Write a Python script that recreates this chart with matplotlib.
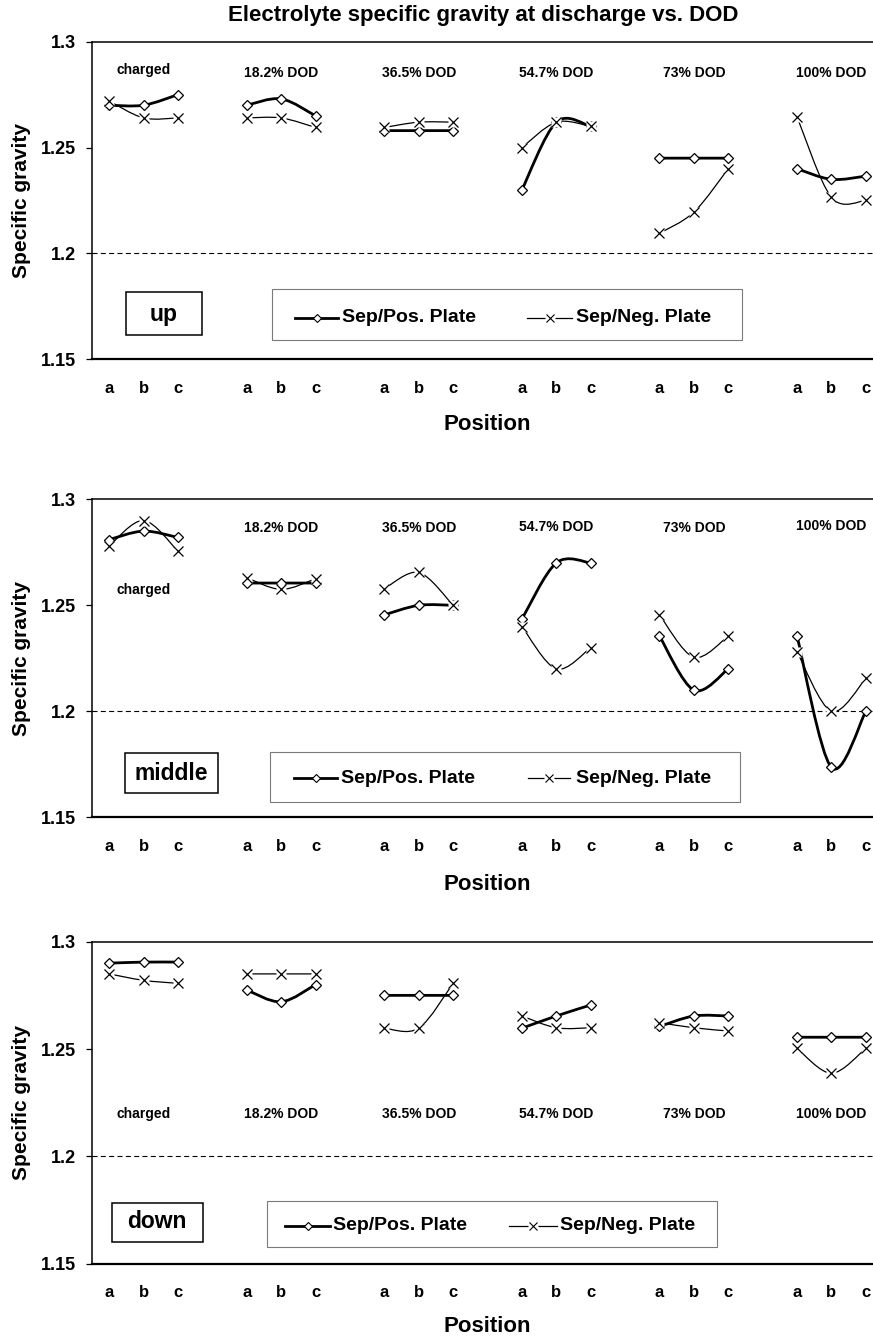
import matplotlib
matplotlib.use("Agg")
import matplotlib.pyplot as plt
from matplotlib.path import Path
from matplotlib.patches import PathPatch, Rectangle
from matplotlib.lines import Line2D

plt.rcParams['font.family'] = ['Liberation Sans', 'DejaVu Sans']
plt.rcParams['font.weight'] = 'bold'

W, H, DPI = 873, 1341, 100

# ---- data -------------------------------------------------------------
groups = ["charged", "18.2% DOD", "36.5% DOD", "54.7% DOD", "73% DOD", "100% DOD"]
positions = ["a", "b", "c"]
levels = ["up", "middle", "down"]
yticks = [1.15, 1.2, 1.25, 1.3]
ytick_labels = ["1.15", "1.2", "1.25", "1.3"]
limit_sg = 1.2

# Sep/Pos. Plate and Sep/Neg. Plate, positions a-b-c for each DOD state
up_pos = [1.270, 1.270, 1.275,  1.270, 1.273, 1.265,  1.258, 1.258, 1.258,
          1.230, 1.262, 1.260,  1.245, 1.245, 1.245,  1.240, 1.235, 1.2365]
up_neg = [1.272, 1.264, 1.264,  1.264, 1.264, 1.2595, 1.2595, 1.262, 1.262,
          1.250, 1.262, 1.260,  1.2095, 1.2195, 1.240, 1.2645, 1.2265, 1.225]

mid_pos = [1.281, 1.285, 1.282,  1.2605, 1.2605, 1.2605, 1.2455, 1.250, 1.250,
           1.2435, 1.270, 1.270, 1.2355, 1.210, 1.220,  1.2355, 1.1735, 1.200]
mid_neg = [1.278, 1.290, 1.2755, 1.263, 1.2575, 1.2625, 1.2578, 1.2655, 1.250,
           1.240, 1.220, 1.230,  1.2455, 1.2255, 1.2355, 1.228, 1.200, 1.2155]

down_pos = [1.290, 1.2905, 1.2905, 1.2775, 1.272, 1.280,  1.275, 1.275, 1.275,
            1.2597, 1.2654, 1.2705, 1.2605, 1.2654, 1.2654, 1.2555, 1.2555, 1.2555]
down_neg = [1.285, 1.282, 1.2806, 1.285, 1.285, 1.285,  1.2597, 1.2597, 1.2806,
            1.2654, 1.2599, 1.2599, 1.2623, 1.2599, 1.2584, 1.2503, 1.2387, 1.2503]

pos_series = [up_pos, mid_pos, down_pos]
neg_series = [up_neg, mid_neg, down_neg]

# ---- layout (pixels) --------------------------------------------------
panels = [
    dict(top=41.7, bottom=359.3, label_y=[1.2866, 1.2852, 1.2852, 1.2852, 1.2852, 1.2852],
         box=(126, 292, 202, 335), box_txt=(164, 314),
         leg=(272, 289, 742, 340), leg_base=322, leg_line=318,
         pos_s=(295, 338), pos_t=342, neg_s=(527, 572), neg_t=576,
         pos_lab=424),
    dict(top=499.3, bottom=817.3, label_y=[1.2572, 1.2865, 1.2865, 1.2870, 1.2865, 1.2872],
         box=(125, 753, 218, 793), box_txt=(171, 773),
         leg=(270, 752, 740, 802), leg_base=783, leg_line=778,
         pos_s=(294, 337), pos_t=341, neg_s=(528, 570), neg_t=576,
         pos_lab=884),
    dict(top=941.7, bottom=1263.7, label_y=[1.2197] * 6,
         box=(112, 1203, 203, 1242), box_txt=(157, 1221),
         leg=(267, 1201, 717, 1247), leg_base=1230, leg_line=1226,
         pos_s=(285, 330), pos_t=333, neg_s=(509, 557), neg_t=560,
         pos_lab=1327),
]
AX_LEFT, AX_RIGHT = 92.0, 883.0


def fx(x):
    return x / W


def fy(y):
    return 1 - y / H


def smooth_path(xs, ys):
    """Cubic Bezier path through the points (Catmull-Rom tangents)."""
    n = len(xs)
    verts = [(xs[0], ys[0])]
    codes = [Path.MOVETO]
    for i in range(n - 1):
        i0, i3 = max(i - 1, 0), min(i + 2, n - 1)
        c1 = (xs[i] + (xs[i + 1] - xs[i0]) / 6, ys[i] + (ys[i + 1] - ys[i0]) / 6)
        c2 = (xs[i + 1] - (xs[i3] - xs[i]) / 6, ys[i + 1] - (ys[i3] - ys[i]) / 6)
        verts += [c1, c2, (xs[i + 1], ys[i + 1])]
        codes += [Path.CURVE4] * 3
    return Path(verts, codes)


fig = plt.figure(figsize=(W / DPI, H / DPI), dpi=DPI)

fig.text(fx(483), fy(15), "Electrolyte specific gravity at discharge vs. DOD",
         ha="center", va="center", fontsize=16, fontweight="bold")

POS_LW, NEG_LW = 2.0, 0.9

for k, cfg in enumerate(panels):
    ax = fig.add_axes([fx(AX_LEFT), fy(cfg["bottom"]),
                       (AX_RIGHT - AX_LEFT) / W, (cfg["bottom"] - cfg["top"]) / H])
    ax.set_xlim(-0.5, 4 * len(groups) - 1.5)
    ax.set_ylim(yticks[0], yticks[-1])

    pos_vals, neg_vals = pos_series[k], neg_series[k]
    xt, xl = [], []
    for g, name in enumerate(groups):
        xs = [4 * g + p for p in range(len(positions))]
        xt += xs
        xl += positions
        sl = slice(3 * g, 3 * g + 3)
        yp, yn = pos_vals[sl], neg_vals[sl]
        # Sep/Pos. Plate: thick smoothed line, white diamonds
        ax.add_patch(PathPatch(smooth_path(xs, yp), fill=False, ec="black",
                               lw=POS_LW, zorder=3, capstyle="butt"))
        ax.plot(xs, yp, ls="none", marker="D", ms=5.6, mfc="white", mec="black",
                mew=0.9, zorder=4)
        # Sep/Neg. Plate: thin smoothed line, x markers on a white patch
        ax.add_patch(PathPatch(smooth_path(xs, yn), fill=False, ec="black",
                               lw=NEG_LW, zorder=5))
        ax.plot(xs, yn, ls="none", marker="s", ms=7.5, mfc="white", mec="none",
                zorder=6)
        ax.plot(xs, yn, ls="none", marker="x", ms=7.0, mec="black", mew=0.9,
                zorder=7)
        ax.text(4 * g + 1, cfg["label_y"][g], name, ha="center", va="center",
                fontsize=10, fontweight="bold", zorder=8)

    ax.axhline(limit_sg, color="black", lw=0.8, ls=(0, (4.5, 3)), zorder=2)

    ax.set_xticks(xt)
    ax.set_xticklabels(xl, fontsize=12, fontweight="bold")
    ax.tick_params(axis="x", length=0, pad=15.5)
    ax.set_yticks(yticks)
    ax.set_yticklabels(ytick_labels, fontsize=13, fontweight="bold")
    ax.tick_params(axis="y", direction="out", length=4.3, width=0.9, pad=7)

    ax.spines["right"].set_visible(False)
    ax.spines["left"].set_linewidth(1.1)
    ax.spines["top"].set_linewidth(1.1)
    ax.spines["bottom"].set_linewidth(1.6)

    # axis titles
    fig.text(fx(22), fy((cfg["top"] + cfg["bottom"]) / 2), "Specific gravity",
             rotation=90, ha="center", va="center", fontsize=15, fontweight="bold")
    fig.text(fx(487), fy(cfg["pos_lab"]), "Position", ha="center", va="center",
             fontsize=16, fontweight="bold")

    # level tag box
    x0, y0, x1, y1 = cfg["box"]
    fig.add_artist(Rectangle((fx(x0), fy(y1)), (x1 - x0) / W, (y1 - y0) / H,
                             transform=fig.transFigure, fill=False, ec="black",
                             lw=1.1))
    fig.text(fx(cfg["box_txt"][0]), fy(cfg["box_txt"][1]), levels[k],
             ha="center", va="center", fontsize=16.5, fontweight="bold")

    # legend
    x0, y0, x1, y1 = cfg["leg"]
    fig.add_artist(Rectangle((fx(x0), fy(y1)), (x1 - x0) / W, (y1 - y0) / H,
                             transform=fig.transFigure, fill=False, ec="#7a7a7a",
                             lw=0.8))
    ly = fy(cfg["leg_line"])
    a, b = cfg["pos_s"]
    fig.add_artist(Line2D([fx(a), fx(b)], [ly, ly], transform=fig.transFigure,
                          color="black", lw=POS_LW))
    fig.add_artist(Line2D([fx((a + b) / 2)], [ly], transform=fig.transFigure,
                          ls="none", marker="D", ms=4.2, mfc="white", mec="black",
                          mew=0.8))
    fig.text(fx(cfg["pos_t"]), fy(cfg["leg_base"]), "Sep/Pos. Plate",
             ha="left", va="baseline", fontsize=14, fontweight="bold")
    a, b = cfg["neg_s"]
    fig.add_artist(Line2D([fx(a), fx(b)], [ly, ly], transform=fig.transFigure,
                          color="black", lw=NEG_LW))
    fig.add_artist(Line2D([fx((a + b) / 2)], [ly], transform=fig.transFigure,
                          ls="none", marker="s", ms=6.5, mfc="white", mec="none"))
    fig.add_artist(Line2D([fx((a + b) / 2)], [ly], transform=fig.transFigure,
                          ls="none", marker="x", ms=5.5, mec="black", mew=0.8))
    fig.text(fx(cfg["neg_t"]), fy(cfg["leg_base"]), "Sep/Neg. Plate",
             ha="left", va="baseline", fontsize=14, fontweight="bold")

fig.savefig("out.png", dpi=DPI)
